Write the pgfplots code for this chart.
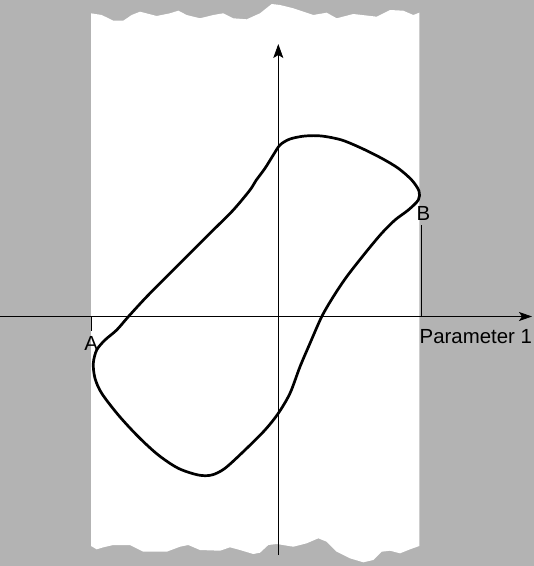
\documentclass[border=0pt]{standalone}
\usepackage{pgfplots}
\pgfplotsset{compat=1.18}
\usepackage{fontspec}
\setmainfont{Liberation Sans}
\usetikzlibrary{arrows.meta}
\definecolor{bggray}{RGB}{179,179,179}
\begin{document}
\begin{tikzpicture}
\begin{axis}[
  scale only axis, width=534pt, height=566pt,
  xmin=0, xmax=534, ymin=0, ymax=566, y dir=reverse,
  hide axis, clip=true,
]
% grey background
\addplot[fill=bggray, draw=none] coordinates {(0,0)(534,0)(534,566)(0,566)} -- cycle;
% white strip with torn edges
\addplot[fill=white, draw=none] coordinates {
(91,13.3)(101.7,15)(113.3,20.7)(123.3,20.7)(131.7,15)(140,11.7)(156.7,16)(170,13.3)(178.3,10.7)(186.7,15)(200,18.3)(213.3,15)(223.3,13.3)(233.3,18.3)(246.7,19.3)(260,13.3)(271.7,4)(280,5)(293.3,8.3)(313.3,15)(326.7,12.7)(336.7,18.3)(353.3,14)(376.7,16.7)(390,10)(403.3,10.7)(413.3,15)(419.3,12.7)
(419.3,546)(410,549.3)(400,553.3)(390,550.7)(381.7,551.7)(373.3,560)(363.3,562.3)(350,558.3)(336.7,551.7)(326.7,541.7)(318.3,538.3)(306.7,543.3)(293.3,546.7)(276.7,544)(268.3,545)(260,552.7)(253.3,554)(240,550)(230,547.3)(220,550.7)(200,550)(188.3,545)(180,546.7)(166.7,551.7)(143.3,551.7)(130,545)(113.3,545)(103.3,547.3)(96.7,549.3)(91,546)
} -- cycle;
% axes
\addplot[black, line width=0.8pt, -{Stealth[length=13pt,width=9pt,inset=3pt]}] coordinates {(0,316.5)(532,316.5)};
\addplot[black, line width=0.8pt, -{Stealth[length=14pt,width=10pt,inset=3pt]}] coordinates {(278.3,555)(278.3,44)};
% A and B markers
\addplot[black, line width=0.8pt] coordinates {(421,225)(421,316.5)};
\addplot[black, line width=0.8pt] coordinates {(91,316.5)(91,331)};
% closed curve
\addplot[black, line width=2.7pt, smooth, line join=round, line cap=round] coordinates {
(190,253.3)(213.3,230)(233.3,210)(250,190)(256,180.5)(265,168.3)(273.3,155)(280,145)(290,139)
(305,136)(321.7,136)(341.7,140)(361.7,148.3)(381.7,158.3)(398.3,168.3)(411.7,180)(419,191)
(418.3,200)(408.3,210)(395,220)(381.7,233.3)(365,253.3)(346.7,276.7)(333.3,296.7)(321.7,316.7)
(310,343.3)(300,366.7)(290,393.3)(278.3,413.3)(265,430)(245,450)(225,468.3)(211.7,475)(198.3,475)
(178.3,468.3)(158.3,455)(138.3,436.7)(118.3,415)(101.7,393.3)(95,378.3)(93.3,363.3)(96.7,350)
(105,340)(116.7,330)(128.3,316.7)(146.7,296.7)(170,273.3)(190,253.3)
};
% labels
\node[anchor=base west, inner sep=0pt, font=\fontsize{20.4}{23}\selectfont] at (axis cs:419.5,343) {Parameter 1};
\node[anchor=base west, inner sep=0pt, font=\fontsize{20.4}{23}\selectfont] at (axis cs:416.5,220) {B};
\node[anchor=base, inner sep=0pt, font=\fontsize{20.4}{23}\selectfont] at (axis cs:91.2,350) {A};
\end{axis}
\end{tikzpicture}
\end{document}
